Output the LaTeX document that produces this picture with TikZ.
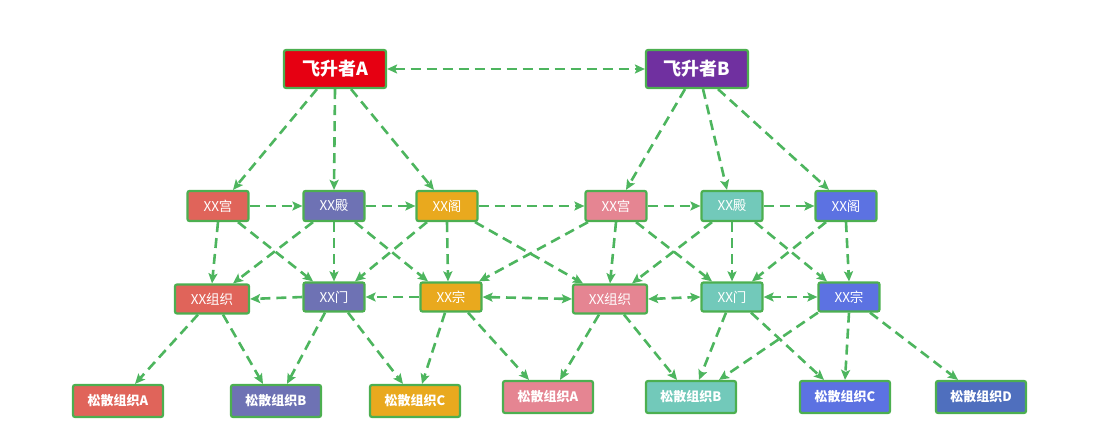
\documentclass[tikz,border=0pt]{standalone}
\usepackage{fontspec}
\setmainfont{Noto Sans CJK SC}
\usetikzlibrary{arrows.meta}

\definecolor{linkgreen}{HTML}{4DB55E}
\definecolor{rimgreen}{HTML}{4CAF50}
\definecolor{redA}{HTML}{E60012}
\definecolor{purpleB}{HTML}{7030A0}
\definecolor{coralA}{HTML}{E0645A}
\definecolor{slateA}{HTML}{6E72B4}
\definecolor{amberA}{HTML}{E9A91E}
\definecolor{roseB}{HTML}{E58592}
\definecolor{tealB}{HTML}{72C9BA}
\definecolor{blueB}{HTML}{5C72E2}
\definecolor{navyB}{HTML}{4F6FBE}

\begin{document}
\begin{tikzpicture}[x=1pt, y=-1pt, >={Stealth[length=10pt,width=9pt,inset=2pt]},
    box/.style={draw=rimgreen, line width=2.2pt, rounded corners=2pt, text=white, inner sep=0pt, font=\fontsize{13.5}{15}\selectfont},
    leader/.style={box, minimum width=102pt, minimum height=38pt, font=\bfseries\fontsize{18}{20}\selectfont},
    hall/.style={box, minimum width=61pt, minimum height=30pt},
    sect/.style={box, minimum width=61pt, minimum height=29pt},
    loose/.style={box, minimum width=90pt, minimum height=32pt, font=\bfseries\fontsize{13}{15}\selectfont},
    link/.style={draw=linkgreen, line width=2.6pt, dash pattern=on 10pt off 6pt, ->}]
    \useasboundingbox (0,0) rectangle (1107,430);

    \def\TopY{69}     % y of the two leaders
    \def\HallY{206}   % y of the halls
    \def\SectY{297}   % y of the sects
    \def\LooseAY{401}
    \def\LooseBY{397}

    \node[leader, fill=redA] (A) at (335,\TopY) {飞升者A};
    \node[leader, fill=purpleB] (B) at (697,\TopY) {飞升者B};

    \node[hall, fill=coralA] (Agong) at (218,\HallY) {XX宫};
    \node[hall, fill=slateA] (Adian) at (334,\HallY) {XX殿};
    \node[hall, fill=amberA] (Age)   at (447,\HallY) {XX阁};
    \node[hall, fill=roseB]  (Bgong) at (616,\HallY) {XX宫};
    \node[hall, fill=tealB]  (Bdian) at (732,\HallY) {XX殿};
    \node[hall, fill=blueB]  (Bge)   at (846,\HallY) {XX阁};

    \node[sect, fill=coralA, minimum width=74pt] (Azz) at (212,299) {XX组织};
    \node[sect, fill=slateA] (Amen)  at (334,\SectY) {XX门};
    \node[sect, fill=amberA] (Azong) at (451,\SectY) {XX宗};
    \node[sect, fill=roseB, minimum width=74pt] (Bzz) at (610,299) {XX组织};
    \node[sect, fill=tealB]  (Bmen)  at (732,\SectY) {XX门};
    \node[sect, fill=blueB]  (Bzong) at (849,\SectY) {XX宗};

    \node[loose, fill=coralA] (LAa) at (118,\LooseAY) {松散组织A};
    \node[loose, fill=slateA] (LAb) at (276,\LooseAY) {松散组织B};
    \node[loose, fill=amberA] (LAc) at (415,\LooseAY) {松散组织C};
    \node[loose, fill=roseB]  (LBa) at (548,\LooseBY) {松散组织A};
    \node[loose, fill=tealB]  (LBb) at (691,\LooseBY) {松散组织B};
    \node[loose, fill=blueB]  (LBc) at (845,\LooseBY) {松散组织C};
    \node[loose, fill=navyB]  (LBd) at (981,\LooseBY) {松散组织D};

    \draw[link, <->] (A) -- (B);

    % leaders down to halls
    \foreach \s/\sx/\t/\tx in {A/-18/Agong/15, A/0/Adian/0, A/16/Age/-13,
        B/-12/Bgong/10, B/6/Bdian/-5, B/21/Bge/-17}
      \draw[link] ([xshift=\sx]\s.south) -- ([xshift=\tx]\t.north);

    \foreach \s/\t in {Agong/Adian, Adian/Age, Age/Bgong, Bgong/Bdian, Bdian/Bge}
      \draw[link] (\s.east) -- (\t.west);

    % halls down to sects
    \foreach \s/\sx/\t/\tx in {Agong/0/Azz/0, Agong/20/Amen/-21, Adian/-21/Azz/21,
        Adian/0/Amen/0, Adian/21/Azong/-23, Age/-20/Amen/21, Age/0/Azong/-3,
        Age/28/Bzz/-27, Bgong/-28/Azong/28, Bgong/0/Bzz/0, Bgong/20/Bmen/-20,
        Bdian/-20/Bzz/22, Bdian/0/Bmen/0, Bdian/23/Bzong/-22, Bge/-20/Bmen/20,
        Bge/0/Bzong/0}
      \draw[link] ([xshift=\sx]\s.south) -- ([xshift=\tx]\t.north);

    \draw[link] (Amen.west) -- (Azz.east);
    \draw[link] (Azong.west) -- (Amen.east);
    \foreach \s/\t in {Azong/Bzz, Bzz/Bmen, Bmen/Bzong}
      \draw[link, <->] (\s.east) -- (\t.west);

    % sects down to loose groups
    \foreach \s/\sx/\t/\tx in {Azz/-14/LAa/17, Azz/11/LAb/-13, Amen/-9/LAb/11,
        Amen/14/LAc/-12, Azong/-6/LAc/7, Azong/17/LBa/-19, Bzz/-11/LBa/12,
        Bzz/14/LBb/-14, Bmen/-6/LBb/8, Bmen/19/LBc/-21, Bzong/-31/LBb/28,
        Bzong/0/LBc/0, Bzong/21/LBd/-23}
      \draw[link] ([xshift=\sx]\s.south) -- ([xshift=\tx]\t.north);
\end{tikzpicture}
\end{document}
